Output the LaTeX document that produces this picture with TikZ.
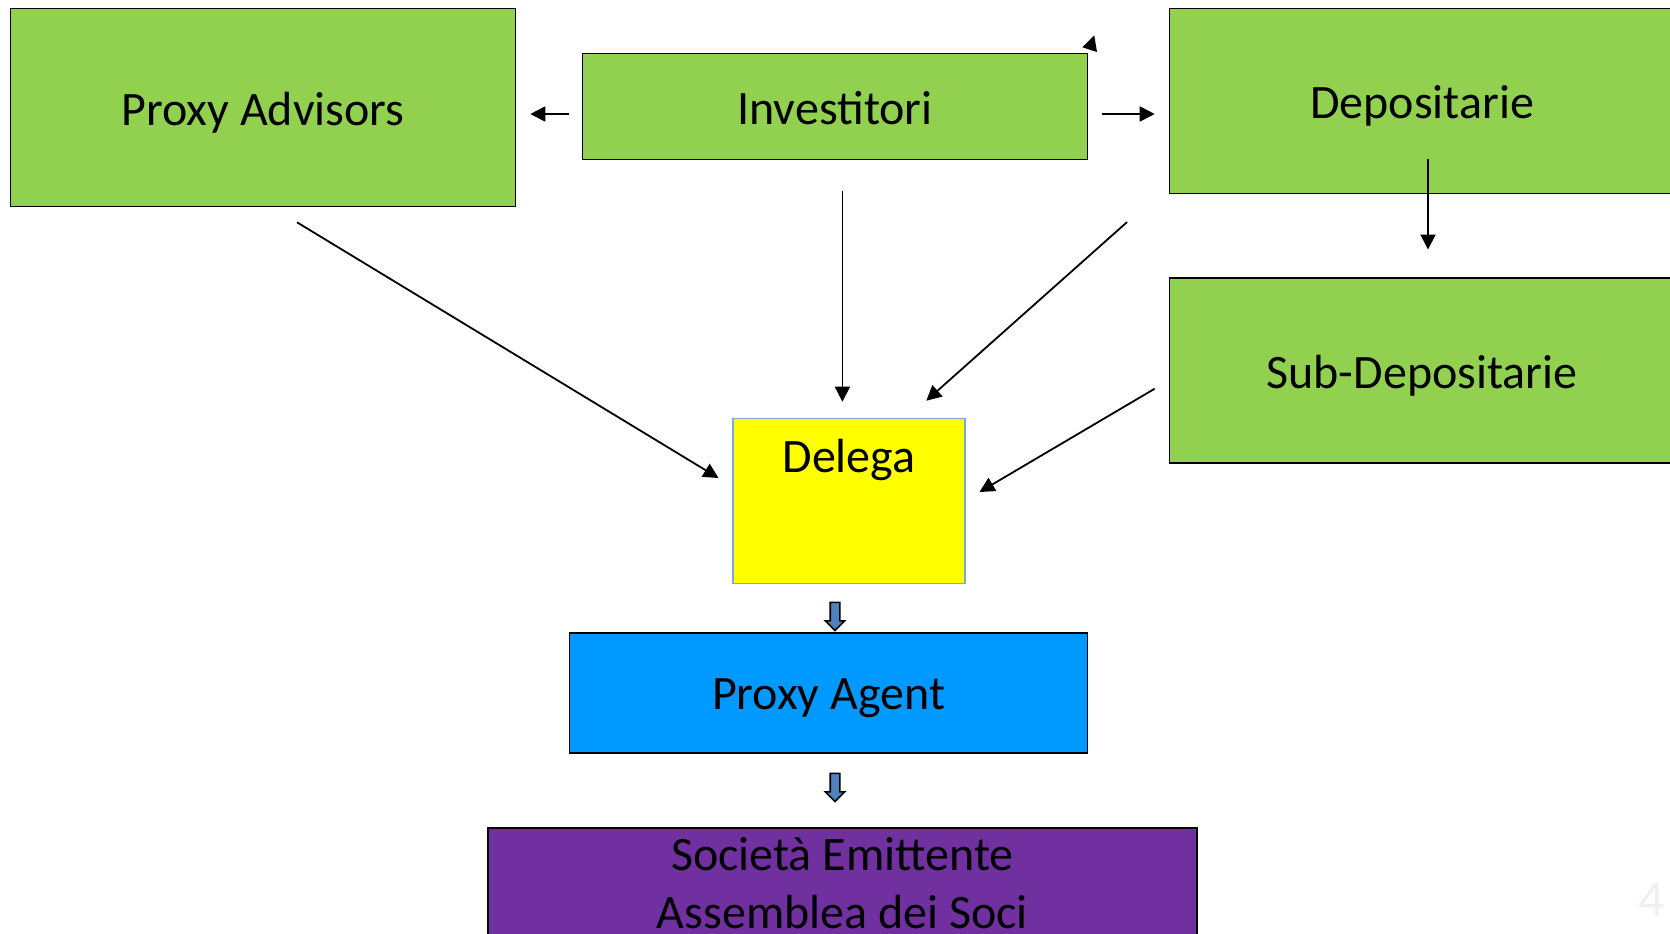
\documentclass[tikz,border=0pt]{standalone}
\usepackage{fontspec}
\setmainfont{Carlito}
\usetikzlibrary{arrows.meta,positioning,calc,shapes.arrows}

\definecolor{boxgreen}{HTML}{92D050}
\definecolor{boxyellow}{HTML}{FFFF00}
\definecolor{boxblue}{HTML}{0099FF}
\definecolor{boxpurple}{HTML}{7030A0}
\definecolor{edgeblue}{HTML}{7EA6E0}
\definecolor{arrowblue}{HTML}{4F81BD}

\begin{document}
\begin{tikzpicture}[>={Triangle[length=7.5pt,width=7.5pt]}, thick, x=0.5pt, y=-0.5pt, font=\fontsize{24}{28.8}\selectfont]
		\tikzstyle{greenbox}=[draw=black, fill=boxgreen, inner sep=0pt, minimum width=252.5pt, minimum height=93pt, text height=21.5pt, text depth=4pt]
		\tikzstyle{delegabox}=[draw=edgeblue, fill=boxyellow, inner sep=0pt, minimum width=116pt, text height=27pt, text depth=55.5pt]
		\tikzstyle{agentbox}=[draw=black, fill=boxblue, inner sep=0pt, minimum width=259pt, minimum height=60pt, text height=21pt, text depth=4pt]
		\tikzstyle{socbox}=[draw=black, fill=boxpurple, inner sep=0pt, minimum width=354.5pt, minimum height=55pt, align=center]
		\tikzstyle{downarrow}=[single arrow, draw=black, fill=arrowblue, shape border rotate=270, minimum height=14pt, inner sep=2pt, single arrow head extend=2.4pt, line width=0.8pt]
		\useasboundingbox (0,0) rectangle (1670,933);
		\clip (0,0) rectangle (1670,933);
		\node[greenbox, minimum height=99pt]    (pa)  at (263,107.5)   {Proxy Advisors};
		\node[greenbox, minimum height=53pt]    (inv) at (835,106.5)   {Investitori};
		\node[greenbox, minimum height=92.6pt]  (dep) at (1422,101)    {Depositarie};
		\node[greenbox, minimum height=92.5pt]  (sub) at (1422,370.5)  {Sub-Depositarie};
		\node[delegabox]  (del)  at (849,501)     {Delega};
		\node[agentbox]   (agt)  at (828.6,692.8) {Proxy Agent};
		\node[socbox]     (soc)  at (842.4,883)   {Società Emittente\\Assemblea dei Soci};
		\node[downarrow]  (da1)  at (835,614)     {};
		\node[downarrow]  (da2)  at (835,785)     {};
		\node[text=white!88!gray, font=\fontsize{26}{30}\selectfont] (pnum) at (1652,900) {4};
		% frecce verso la delega
		\draw[->, line width=0.9pt] ($(inv.west)+(-13,7.5)$) -- ($(pa.east)+(14,6.5)$);
		\draw[->, line width=0.9pt] ($(inv.east)+(13.6,7.5)$) -- ($(dep.west)+(-14,13)$);
		\draw[->, line width=0.9pt] ($(inv.south)+(7.4,31)$) -- ($(del.north)+(-6.6,-16)$);
		\draw[->, line width=0.9pt] ($(dep.south west)+(-41.7,27.7)$) -- ($(del.north east)+(-39.5,-17)$);
		\draw[->, line width=0.9pt] ($(pa.south)+(34,15)$) -- ($(del.west)+(-13.7,-23)$);
		\draw[->, line width=0.9pt] ($(sub.west)+(-14,18.2)$) -- ($(del.east)+(13.7,-9)$);
		\draw[->, line width=0.9pt] ($(dep.south)+(6,-35)$) -- ($(sub.north)+(6,-27.7)$);
		\draw[->, line width=0.9pt] ($(inv.north east)+(1.5,-3.5)$) -- ($(inv.north east)+(6,-17.3)$);
	\end{tikzpicture}
\end{document}
